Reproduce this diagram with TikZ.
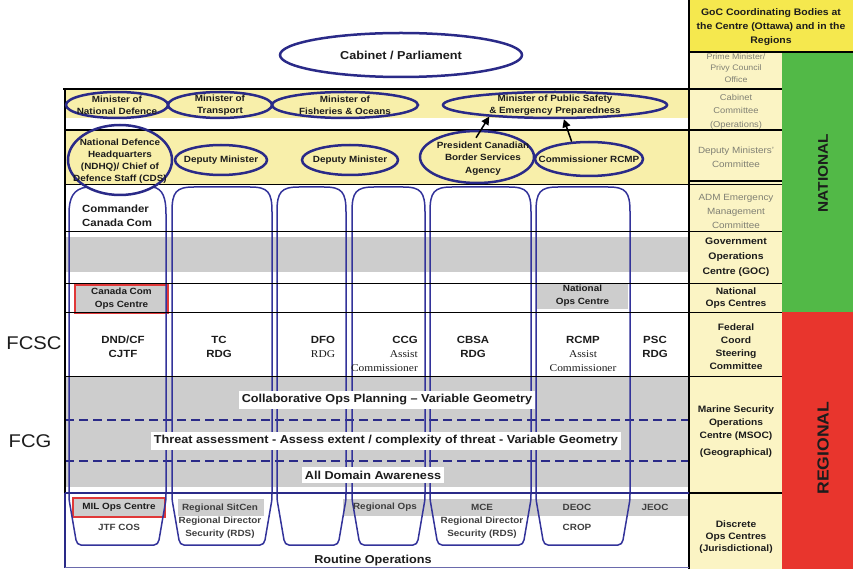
\documentclass[tikz,border=0pt]{standalone}
\usepackage{fontspec}
\setmainfont{Liberation Sans}[FakeStretch=1.1]
\newfontfamily\serifrm{Liberation Serif}[FakeStretch=1.1]
\usetikzlibrary{shapes.geometric,arrows.meta}
\definecolor{hdrY}{HTML}{F5E84E}
\definecolor{cellY}{HTML}{FBF4C4}
\definecolor{rowY}{HTML}{F8EFAA}
\definecolor{natG}{HTML}{52B947}
\definecolor{regR}{HTML}{E8352D}
\definecolor{navy}{HTML}{2A2A88}
\definecolor{tubeB}{HTML}{33339A}
\definecolor{bandG}{HTML}{CDCDCD}
\definecolor{greyT}{HTML}{808074}
\definecolor{txt}{HTML}{1C1C1C}
\definecolor{boxR}{HTML}{E03838}
\newcommand{\tubeshape}[2]{%
\draw[tube] (#1+12,545) -- (#2-12,545) .. controls (#2-9,545) and (#2-8,543) .. (#2-7,540) -- (#2-1,505) .. controls (#2,500) and (#2,498) .. (#2,494) -- (#2,212) .. controls (#2,192) and (#2-4,187) .. (#2-22,187) -- (#1+22,187) .. controls (#1+4,187) and (#1,192) .. (#1,212) -- (#1,494) .. controls (#1,498) and (#1,500) .. (#1+1,505) -- (#1+7,540) .. controls (#1+8,543) and (#1+9,545) .. (#1+12,545) -- cycle;}
\tikzset{
  ov/.style={ellipse, draw=navy, line width=2.5pt, inner sep=0},
  tube/.style={draw=tubeB, line width=1.5pt},
  hline/.style={draw=black, line width=1.4pt},
  nline/.style={draw=navy, line width=1.4pt},
  dline/.style={draw=navy, line width=1.8pt, dash pattern=on 9pt off 5pt},
  arr/.style={draw=black, line width=1.5pt, -{Triangle[length=8pt,width=8pt]}},
  mt/.style={font=\bfseries\fontsize{9}{12}\selectfont, align=center, inner sep=0, text=txt},
  big/.style={font=\bfseries\fontsize{11.5}{14}\selectfont, align=center, inner sep=0, text=txt},
  colt/.style={font=\bfseries\fontsize{10.4}{14}\selectfont, align=center, inner sep=0, text=txt},
  gt/.style={font=\fontsize{8.5}{13.5}\selectfont, align=center, inner sep=0, text=greyT},
  rt/.style={font=\bfseries\fontsize{9.3}{13}\selectfont, align=center, inner sep=0, text=txt},
  side/.style={font=\fontsize{18.4}{20}\selectfont, inner sep=0, text=txt},
  bandlbl/.style={big, fill=white, inner xsep=3pt, inner ysep=4pt},
  gbox/.style={fill=bandG, inner sep=0, font=\bfseries\fontsize{9}{13}\selectfont, align=center, text=txt},
  bt/.style={font=\bfseries\fontsize{9}{13}\selectfont, align=center, inner sep=0, text=txt!85}
}
\begin{document}
\begin{tikzpicture}[x=1pt,y=-1pt]
\useasboundingbox (0,0) rectangle (853,569);
% ---------- background fills ----------
\fill[rowY] (65,90) rectangle (689,118);
\fill[rowY] (65,130) rectangle (689,184);
\fill[bandG] (65,237) rectangle (688,272);
\fill[bandG] (65,377) rectangle (688,487);
\fill[bandG] (178,499) rectangle (264,516);
\fill[bandG] (343,499) rectangle (688,516);
\fill[cellY] (689,52) rectangle (782,569);
\fill[natG] (782,52) rectangle (853,312);
\fill[regR] (782,312) rectangle (853,569);
% right column texts (grey ones first, header overlays the top one)
\node[gt, font=\fontsize{8}{11.5}\selectfont] (pmo) at (736,68) {Prime Minister/\\Privy Council\\Office};
\fill[hdrY] (689,0) rectangle (853,52);
\node[font=\bfseries\fontsize{9.5}{14}\selectfont, align=center, inner sep=0, text=txt] (goc) at (771,27) {GoC Coordinating Bodies at\\the Centre (Ottawa) and in the\\Regions};
\node[gt] (cco) at (736,111.5) {Cabinet\\Committee\\(Operations)};
\node[gt, font=\fontsize{9}{14}\selectfont] (dmc) at (736,157) {Deputy Ministers'\\Committee};
\node[gt, font=\fontsize{9}{14}\selectfont] (adm) at (736,211) {ADM Emergency\\Management\\Committee};
\node[rt, font=\bfseries\fontsize{9.5}{15}\selectfont] (goc2) at (736,257) {Government\\Operations\\Centre (GOC)};
\node[rt, font=\bfseries\fontsize{9.3}{12}\selectfont] (noc) at (736,298) {National\\Ops Centres};
\node[rt] (fcscc) at (736,346.5) {Federal\\Coord\\Steering\\Committee};
\node[rt] (msoc) at (736,431.5) {Marine Security\\Operations\\Centre (MSOC)\\[4pt](Geographical)};
\node[rt, font=\bfseries\fontsize{9.3}{12}\selectfont] (doc) at (736,537) {Discrete\\Ops Centres\\(Jurisdictional)};
\node[rotate=90, font=\bfseries\fontsize{14}{16}\selectfont, text=txt, inner sep=0] (nat) at (823,173) {NATIONAL};
\node[rotate=90, font=\bfseries\fontsize{16}{18}\selectfont, text=txt, inner sep=0] (reg) at (823,448) {REGIONAL};
% ---------- boxes in rows ----------
\node[gbox, draw=boxR, line width=1.2pt, minimum width=93, minimum height=28] (ccoc) at (121.5,299) {Canada Com\\Ops Centre};
\node[gbox, minimum width=91, minimum height=26] (nopc) at (582.5,296) {National\\Ops Centre};
\node[gbox, draw=boxR, line width=1.2pt, minimum width=92, minimum height=19] (mil) at (119,507.5) {MIL Ops Centre};
% ---------- dashed lines ----------
\draw[dline] (65,420) -- (689,420);
\draw[dline] (65,461) -- (689,461);
% ---------- tubes ----------
\draw[tube] (87,187) .. controls (73,189) and (69,198) .. (69,214) -- (69,494) .. controls (69,498) and (69,500) .. (70,505) -- (76,540) .. controls (77,543) and (78,545) .. (81,545) -- (154,545) .. controls (157,545) and (158,543) .. (159,540) -- (165,505) .. controls (166,500) and (166,498) .. (166,494) -- (166,214) .. controls (166,198) and (163,189) .. (153,187);
\tubeshape{172}{272}
\tubeshape{277}{346}
\tubeshape{352}{425}
\tubeshape{430}{531}
\tubeshape{536}{630}
% ---------- grid lines ----------
\draw[hline] (689,0) -- (689,569);
\draw[hline] (689,52) -- (853,52);
\draw[hline] (65,89) -- (65,493);
\draw[nline] (65,493) -- (65,568);
\draw[hline] (63,89) -- (782,89);
\draw[hline] (65,130) -- (782,130);
\draw[hline] (689,181) -- (782,181);
\draw[hline] (65,184.5) -- (782,184.5);
\draw[hline] (65,231.5) -- (782,231.5);
\draw[hline] (65,283.5) -- (782,283.5);
\draw[hline] (65,312.5) -- (782,312.5);
\draw[hline] (65,376.5) -- (782,376.5);
\draw[nline] (65,493) -- (689,493);
\draw[hline] (689,493) -- (782,493);
\draw[draw=navy!70, line width=1.2pt] (65,567.5) -- (689,567.5);
% ---------- band labels ----------
\node[bandlbl] (lab1) at (387,400) {Collaborative Ops Planning -- Variable Geometry};
\node[bandlbl] (lab2) at (386,441) {Threat assessment - Assess extent / complexity of threat - Variable Geometry};
\node[bandlbl] (lab3) at (373,475) {All Domain Awareness};
\node[big] (rout) at (373,561) {Routine Operations};
% ---------- top ellipses ----------
\node[ov, minimum width=242, minimum height=44] (cab) at (401,55) {};
\node[big] (cabt) at (cab.center) {Cabinet / Parliament};
\node[ov, minimum width=102, minimum height=26] (mnd) at (117,105) {};
\node[mt] (mndt) at (mnd.center) {Minister of\\National Defence};
\node[ov, minimum width=104, minimum height=26] (mot) at (220,105) {};
\node[mt] (mott) at (mot.center) {Minister of\\Transport};
\node[ov, minimum width=146, minimum height=26] (mfo) at (345,105) {};
\node[mt] (mfot) at (mfo.center) {Minister of\\Fisheries \& Oceans};
\node[ov, minimum width=224, minimum height=26] (mps) at (555,105) {};
\node[mt] (mpst) at (mps.center) {Minister of Public Safety\\\& Emergency Preparedness};
\node[ov, minimum width=104, minimum height=70] (ndhq) at (120,160) {};
\node[mt] (ndhqt) at (120,161) {National Defence\\Headquarters\\(NDHQ)/ Chief of\\Defence Staff (CDS)};
\node[ov, minimum width=92, minimum height=30] (dm1) at (221,160) {};
\node[mt] (dm1t) at (dm1.center) {Deputy Minister};
\node[ov, minimum width=96, minimum height=30] (dm2) at (350,160) {};
\node[mt] (dm2t) at (dm2.center) {Deputy Minister};
\node[ov, minimum width=114, minimum height=52] (cbsa) at (477,157) {};
\node[mt, font=\bfseries\fontsize{9}{12.5}\selectfont] (cbsat) at (483,158.5) {President Canadian\\Border Services\\Agency};
\node[ov, minimum width=108, minimum height=34] (rcmp) at (589,159) {};
\node[mt] (rcmpt) at (rcmp.center) {Commissioner RCMP};
\draw[arr] ([yshift=-8pt]cbsa.92) -- (mps.190);
\draw[arr] (rcmp.135) -- (mps.302);
% ---------- row texts ----------
\node[colt, align=left, anchor=west] (cmd) at (82,216) {Commander\\Canada Com};
\node[side] (fcsc) at (34,343) {FCSC};
\node[side] (fcg) at (30,441) {FCG};
\node[colt] (dnd) at (123,347) {DND/CF\\CJTF};
\node[colt] (tc) at (219,347) {TC\\RDG};
\node[colt] (dfo) at (323,347) {DFO\\{\serifrm\mdseries RDG}};
\node[colt, align=right, anchor=east] (ccg) at (418,354) {CCG\\{\serifrm\mdseries Assist}\\{\serifrm\mdseries Commissioner}};
\node[colt] (cbsa2) at (473,347) {CBSA\\RDG};
\node[colt] (rcmp2) at (583,354) {RCMP\\{\serifrm\mdseries Assist}\\{\serifrm\mdseries Commissioner}};
\node[colt] (psc) at (655,347) {PSC\\RDG};
% ---------- bottom row texts ----------
\node[bt] (jtf) at (119,527) {JTF COS};
\node[bt] (rsit) at (220,521) {Regional SitCen\\Regional Director\\Security (RDS)};
\node[bt] (rops) at (385,507) {Regional Ops};
\node[bt] (mce) at (482,521) {MCE\\Regional Director\\Security (RDS)};
\node[bt] (deoc) at (577,507) {DEOC};
\node[bt] (crop) at (577,527) {CROP};
\node[bt] (jeoc) at (655,507) {JEOC};
\end{tikzpicture}
\end{document}
